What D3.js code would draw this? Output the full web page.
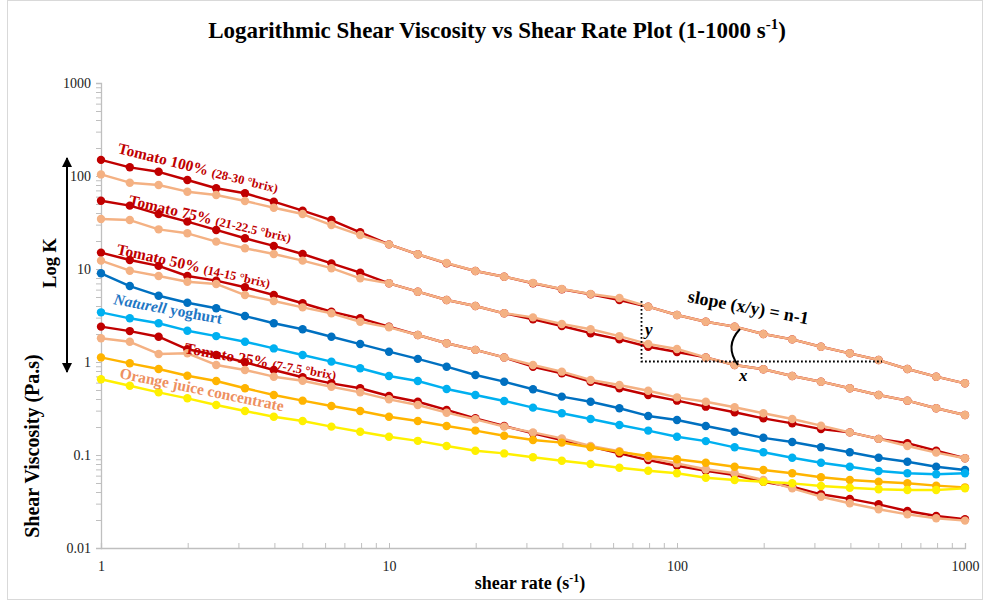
<!DOCTYPE html>
<html>
<head>
<meta charset="utf-8">
<script src="https://cdn.jsdelivr.net/npm/d3@7"></script>
<style>
  html, body { margin: 0; padding: 0; background: #fff; }
  svg { display: block; font-family: "Liberation Serif", "Times New Roman", serif; }
</style>
</head>
<body>
<svg id="chart" width="989" height="601"></svg>
<script>
// ---------- data ----------
const shearRate = [1, 1.259, 1.585, 1.995, 2.512, 3.162, 3.981, 5.012, 6.31, 7.943,
  10, 12.59, 15.85, 19.95, 25.12, 31.62, 39.81, 50.12, 63.1, 79.43,
  100, 125.9, 158.5, 199.5, 251.2, 316.2, 398.1, 501.2, 631, 794.3, 1000];

const tomato100Dark  = [149,124,111,90.6,73.8,65.2,52.9,42.4,33.6,24.8,18.4,14.4,11.5,9.52,8.26,7.02,6.05,5.35,4.64,3.93,3.20,2.71,2.40,2.00,1.75,1.46,1.24,1.05,0.841,0.695,0.590];
const tomato100Light = [104,84.7,80.0,67.8,62.5,53.8,45.6,39.0,29.7,23.2,18.4,14.4,11.6,9.52,8.26,7.07,6.10,5.39,4.88,3.93,3.20,2.71,2.40,2.00,1.75,1.46,1.24,1.05,0.841,0.695,0.590];
const tomato75Dark   = [54.2,48.0,39.0,32.3,26.3,21.4,17.7,14.5,11.5,9.12,7.02,5.70,4.64,4.00,3.34,2.88,2.44,2.04,1.75,1.46,1.28,1.12,0.929,0.835,0.707,0.614,0.522,0.442,0.384,0.318,0.269];
const tomato75Light  = [34.5,33.6,26.7,24.2,19.7,16.7,14.5,12.3,10.2,7.94,7.02,5.70,4.64,4.00,3.34,3.02,2.56,2.25,1.90,1.56,1.38,1.12,0.929,0.835,0.707,0.614,0.522,0.442,0.384,0.318,0.269];
const tomato50Dark   = [15.0,12.5,10.8,8.41,7.49,6.36,5.25,4.28,3.47,2.95,2.40,1.95,1.59,1.35,1.12,0.890,0.756,0.614,0.522,0.442,0.384,0.331,0.288,0.248,0.219,0.190,0.175,0.149,0.134,0.111,0.0922];
const tomato50Light  = [12.3,9.59,8.41,7.30,6.90,5.25,4.53,3.87,3.34,2.71,2.36,1.95,1.59,1.35,1.12,0.929,0.787,0.641,0.566,0.491,0.417,0.374,0.326,0.281,0.244,0.207,0.175,0.149,0.125,0.106,0.0922];
const yoghurtDark    = [8.99,6.56,5.16,4.34,3.78,3.12,2.61,2.25,1.87,1.56,1.29,1.08,0.890,0.725,0.614,0.509,0.424,0.374,0.318,0.263,0.238,0.205,0.178,0.153,0.138,0.121,0.107,0.0935,0.0847,0.0748,0.0690];
const yoghurtLight   = [3.42,2.95,2.61,2.17,1.90,1.65,1.40,1.19,1.01,0.856,0.707,0.625,0.513,0.442,0.381,0.323,0.281,0.244,0.210,0.183,0.157,0.141,0.121,0.107,0.0935,0.0826,0.0748,0.0673,0.0636,0.0620,0.0636];
const tomato25Dark   = [2.40,2.15,1.87,1.37,1.19,0.993,0.820,0.685,0.590,0.522,0.431,0.374,0.305,0.248,0.205,0.171,0.145,0.123,0.104,0.0883,0.0767,0.0678,0.0610,0.0516,0.0456,0.0378,0.0337,0.0295,0.0250,0.0221,0.0204];
const tomato25Light  = [1.80,1.65,1.22,1.24,0.929,0.820,0.695,0.629,0.542,0.472,0.397,0.345,0.285,0.242,0.202,0.175,0.151,0.125,0.110,0.0935,0.0814,0.0702,0.0636,0.0539,0.0438,0.0356,0.0303,0.0261,0.0230,0.0209,0.0197];
const orangeJuiceA   = [1.12,0.968,0.841,0.712,0.625,0.522,0.442,0.384,0.336,0.297,0.258,0.232,0.205,0.183,0.161,0.145,0.136,0.121,0.108,0.0975,0.0899,0.0826,0.0748,0.0690,0.0636,0.0576,0.0539,0.0516,0.0496,0.0468,0.0449];
const orangeJuiceB   = [0.652,0.556,0.472,0.407,0.345,0.297,0.258,0.232,0.202,0.178,0.157,0.142,0.125,0.111,0.104,0.0945,0.0868,0.0800,0.0730,0.0678,0.0636,0.0570,0.0539,0.0516,0.0496,0.0464,0.0445,0.0428,0.0420,0.0420,0.0438];

const yTickLabels = [0.01, 0.1, 1, 10, 100, 1000];
const xTickLabels = [1, 10, 100, 1000];

const seriesList = [
  { name: "Tomato 100% a", values: tomato100Dark,  color: "#C00000" },
  { name: "Tomato 100% b", values: tomato100Light, color: "#F4B183" },
  { name: "Tomato 75% a",  values: tomato75Dark,   color: "#C00000" },
  { name: "Tomato 75% b",  values: tomato75Light,  color: "#F4B183" },
  { name: "Tomato 50% a",  values: tomato50Dark,   color: "#C00000" },
  { name: "Tomato 50% b",  values: tomato50Light,  color: "#F4B183" },
  { name: "Tomato 25% a",  values: tomato25Dark,   color: "#C00000" },
  { name: "Tomato 25% b",  values: tomato25Light,  color: "#F4B183" },
  { name: "Yoghurt a",     values: yoghurtDark,    color: "#0070C0" },
  { name: "Yoghurt b",     values: yoghurtLight,   color: "#00B0F0" },
  { name: "Orange a",      values: orangeJuiceA,   color: "#FFB400" },
  { name: "Orange b",      values: orangeJuiceB,   color: "#FFF000" }
];

// ---------- layout ----------
const svg = d3.select("#chart");
const plotL = 101, plotR = 965, plotT = 83, plotB = 548;

svg.append("rect").attr("x", 7.5).attr("y", 0.5).attr("width", 975).attr("height", 599)
  .attr("fill", "#fff").attr("stroke", "#D9D9D9");

const x = d3.scaleLog().domain([1, 1000]).range([plotL, plotR]);
const y = d3.scaleLog().domain([0.01, 1000]).range([plotB, plotT]);

const yMinor = [];
for (let e = -2; e <= 3; e++) for (let m = 1; m <= 9; m++) { const v = +(m * Math.pow(10, e)).toPrecision(3); if (v <= 1000) yMinor.push(v); }
const xMinor = [];
for (let e = 0; e <= 3; e++) for (let m = 1; m <= 9; m++) { const v = +(m * Math.pow(10, e)).toPrecision(3); if (v <= 1000) xMinor.push(v); }

const fmt = v => (v >= 1 ? d3.format("d")(v) : String(v));

// y axis
const yAxis = svg.append("g").attr("transform", `translate(${plotL},0)`)
  .call(d3.axisLeft(y).tickValues(yMinor).tickSize(5).tickFormat(v => yTickLabels.includes(v) ? fmt(v) : ""));
yAxis.select(".domain").attr("stroke", "#BFBFBF").attr("stroke-width", 1.3);
yAxis.selectAll(".tick line").attr("stroke", "#BFBFBF");
yAxis.selectAll(".tick text").attr("x", -10).attr("font-size", 14).attr("fill", "#222")
  .attr("font-family", "Liberation Serif");

// x axis
const xAxis = svg.append("g").attr("transform", `translate(0,${plotB})`)
  .call(d3.axisBottom(x).tickValues(xMinor).tickSize(-5).tickFormat(v => xTickLabels.includes(v) ? fmt(v) : ""));
xAxis.select(".domain").attr("stroke", "#BFBFBF").attr("stroke-width", 1.3);
xAxis.selectAll(".tick line").attr("stroke", "#BFBFBF");
xAxis.selectAll(".tick text").attr("y", 13).attr("dy", "0.71em").attr("font-size", 14).attr("fill", "#222")
  .attr("font-family", "Liberation Serif");

// ---------- series ----------
const line = d3.line().x((d, i) => x(shearRate[i])).y(d => y(d));
const plot = svg.append("g");
seriesList.forEach(s => {
  const g = plot.append("g");
  g.append("path").datum(s.values).attr("d", line).attr("fill", "none")
    .attr("stroke", s.color).attr("stroke-width", 2.4).attr("stroke-linejoin", "round");
  g.selectAll("circle").data(s.values).join("circle")
    .attr("cx", (d, i) => x(shearRate[i])).attr("cy", d => y(d)).attr("r", 4.2)
    .attr("fill", s.color);
});

// ---------- titles ----------
const title = svg.append("text").attr("x", 497).attr("y", 38).attr("text-anchor", "middle")
  .attr("font-size", 23).attr("font-weight", "bold").attr("fill", "#000");
title.append("tspan").text("Logarithmic Shear Viscosity vs Shear Rate Plot (1-1000 s");
title.append("tspan").attr("font-size", 15).attr("dy", -9).text("-1");
title.append("tspan").attr("dy", 9).text(")");

const xt = svg.append("text").attr("x", 530).attr("y", 589).attr("text-anchor", "middle")
  .attr("font-size", 18).attr("font-weight", "bold").attr("fill", "#000");
xt.append("tspan").text("shear rate (s");
xt.append("tspan").attr("font-size", 12).attr("dy", -7).text("-1");
xt.append("tspan").attr("dy", 7).text(")");

svg.append("text").attr("transform", "translate(39,446) rotate(-90)").attr("text-anchor", "middle")
  .attr("font-size", 20).attr("font-weight", "bold").attr("fill", "#000").text("Shear Viscosity (Pa.s)");

svg.append("text").attr("transform", "translate(56,263) rotate(-90)").attr("text-anchor", "middle")
  .attr("font-size", 18.5).attr("font-weight", "bold").attr("fill", "#000").text("Log K");

// double arrow
const defs = svg.append("defs");
defs.append("marker").attr("id", "ah").attr("viewBox", "0 0 10 10").attr("refX", 9).attr("refY", 5)
  .attr("markerWidth", 5).attr("markerHeight", 5).attr("orient", "auto-start-reverse")
  .append("path").attr("d", "M0,0 L10,5 L0,10 z").attr("fill", "#000");
svg.append("line").attr("x1", 67).attr("x2", 67).attr("y1", 158).attr("y2", 372)
  .attr("stroke", "#000").attr("stroke-width", 2)
  .attr("marker-start", "url(#ah)").attr("marker-end", "url(#ah)");

// ---------- annotations ----------
function label(xp, yp, ang, color, parts) {
  const t = svg.append("text").attr("transform", `translate(${xp},${yp}) rotate(${ang})`)
    .attr("fill", color).attr("font-weight", "bold");
  parts.forEach(p => {
    const s = t.append("tspan").attr("font-size", p.size).text(p.text);
    if (p.italic) s.attr("font-style", "italic");
  });
}
label(117, 153, 14, "#C00000", [{ text: "Tomato 100% ", size: 15.5 }, { text: "(28-30 °brix)", size: 12.5 }]);
label(128, 205, 13, "#C00000", [{ text: "Tomato 75% ", size: 15.5 }, { text: "(21-22.5 °brix)", size: 12.5 }]);
label(116, 254, 12.5, "#C00000", [{ text: "Tomato 50% ", size: 15.5 }, { text: "(14-15 °brix)", size: 12.5 }]);
label(113, 304, 10.5, "#1F77C4", [{ text: "Naturell", size: 15.5, italic: true }, { text: " yoghurt", size: 15.5 }]);
label(184, 353, 10, "#C00000", [{ text: "Tomato 25% ", size: 15.5 }, { text: "(7-7.5 °brix)", size: 12.5 }]);
label(119, 378, 11.5, "#EE9060", [{ text: "Orange juice concentrate", size: 15.5 }]);

// slope triangle
svg.append("path").attr("d", "M641.5,301 L641.5,361.5 L882,361.5").attr("fill", "none")
  .attr("stroke", "#000").attr("stroke-width", 1.8).attr("stroke-dasharray", "1.8,2.2");
svg.append("path").attr("d", "M740,329 Q724,346 738,365").attr("fill", "none")
  .attr("stroke", "#000").attr("stroke-width", 2);
svg.append("text").attr("x", 645).attr("y", 335).attr("font-size", 17).attr("font-weight", "bold")
  .attr("font-style", "italic").text("y");
svg.append("text").attr("x", 739).attr("y", 381).attr("font-size", 17).attr("font-weight", "bold")
  .attr("font-style", "italic").text("x");
svg.append("text").attr("transform", "translate(687,302) rotate(10.5)").attr("font-size", 18)
  .attr("font-weight", "bold").text("slope (x/y) = n-1");
</script>
</body>
</html>
